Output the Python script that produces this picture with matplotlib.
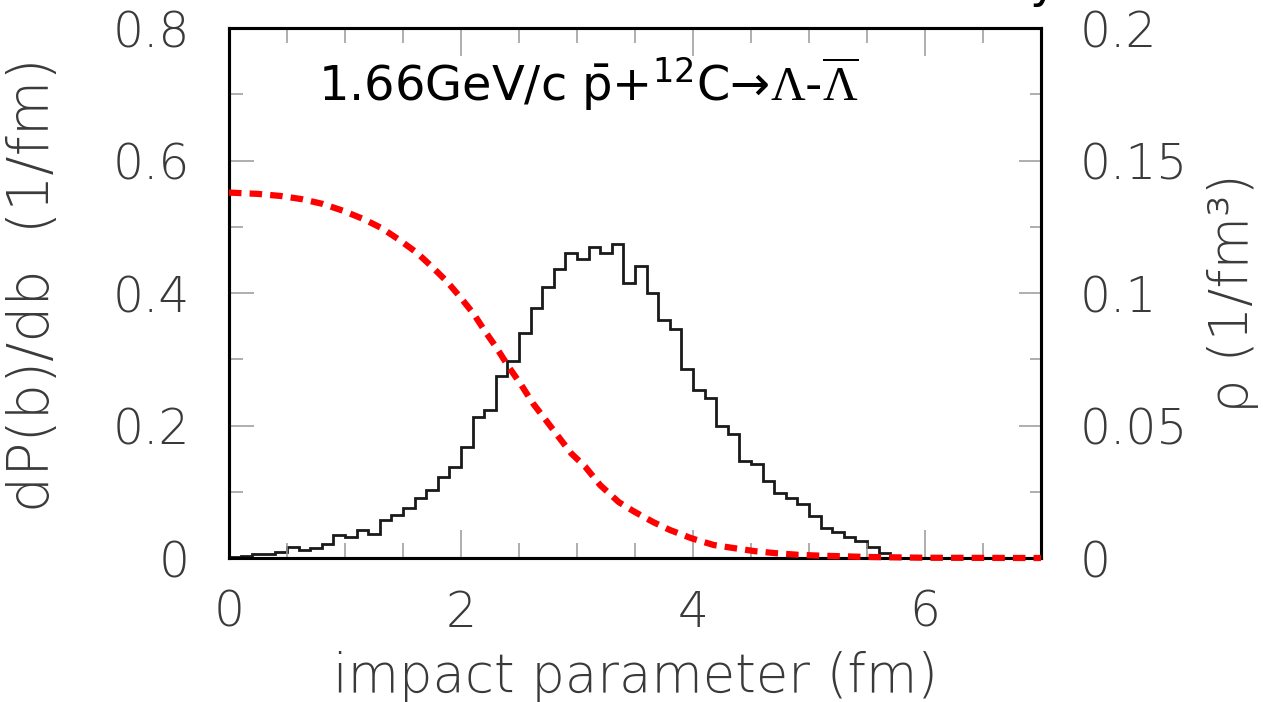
import numpy as np
import matplotlib.pyplot as plt
from matplotlib.ticker import MultipleLocator

plt.rcParams['mathtext.fontset'] = 'custom'
plt.rcParams['mathtext.rm'] = 'DejaVu Sans'
plt.rcParams['mathtext.sf'] = 'Liberation Serif'

# histogram dP(b)/db, bins of 0.1 fm from 0 to 7 fm
b_edges = np.linspace(0, 7, 71)
dpdb = [0.001, 0.003, 0.0056, 0.0056, 0.0086, 0.017, 0.012, 0.0156, 0.021, 0.035,
        0.032, 0.042, 0.036, 0.057, 0.065, 0.076, 0.090, 0.102, 0.122, 0.137,
        0.167, 0.213, 0.223, 0.275, 0.298, 0.339, 0.378, 0.409, 0.436, 0.461,
        0.451, 0.470, 0.461, 0.474, 0.415, 0.441, 0.400, 0.359, 0.345, 0.286,
        0.254, 0.242, 0.199, 0.187, 0.147, 0.142, 0.116, 0.098, 0.090, 0.082,
        0.063, 0.045, 0.040, 0.032, 0.025, 0.017, 0.007, 0, 0, 0,
        0, 0, 0, 0, 0, 0, 0, 0, 0, 0]

# nuclear density rho(b) (right axis)
rho_b = [0, 0.25, 0.45, 0.63, 0.81, 0.98, 1.16, 1.32, 1.47, 1.62, 1.75, 1.88,
         2.0, 2.11, 2.21, 2.31, 2.41, 2.52, 2.62, 2.72, 2.84, 2.95, 3.07, 3.2,
         3.36, 3.49, 3.66, 3.8, 3.99, 4.18, 4.36, 4.53, 4.72, 4.91, 5.09, 5.5, 6.0, 7.0]
rho = [0.1379, 0.1374, 0.1366, 0.1354, 0.1336, 0.1311, 0.1279, 0.1244, 0.1200, 0.1152,
       0.1099, 0.1043, 0.0981, 0.0921, 0.0854, 0.0791, 0.0722, 0.0653, 0.0584, 0.0527,
       0.0458, 0.0395, 0.0345, 0.0275, 0.0211, 0.0176, 0.0135, 0.0106, 0.0074, 0.0049,
       0.0037, 0.0026, 0.0018, 0.0012, 0.0009, 0.0004, 0.0001, 0.0]

x_ticks = [0, 2, 4, 6]
x_ticklabels = ['0', '2', '4', '6']
y_ticks = [0, 0.2, 0.4, 0.6, 0.8]
y_ticklabels = ['0', '0.2', '0.4', '0.6', '0.8']
y2_ticks = [0, 0.05, 0.1, 0.15, 0.2]
y2_ticklabels = ['0', '0.05', '0.1', '0.15', '0.2']

title = (r'1.66GeV/c $\bar{\mathrm{p}}$+$^{\mathrm{12}}$C→$\mathsf{\Lambda}$'
         r'-$\overline{\mathsf{\Lambda}}$')

lab = dict(family='DejaVu Sans', weight='light', color='#3a3a3a')

fig = plt.figure(figsize=(12.63, 7.02), dpi=100)
ax = fig.add_axes([0.1813, 0.2051, 0.6429, 0.7550])
ax.stairs(dpdb, b_edges, color='#1a1a1a', lw=2.0, baseline=0)
ax.set_xlim(0, 7)
ax.set_ylim(0, 0.8)

ax2 = ax.twinx()
ax2.plot(rho_b, rho, color='red', lw=4.5, dashes=(2.0, 1.3), dash_capstyle='butt',
         clip_on=False, zorder=5)
ax2.set_ylim(0, 0.2)

ax.set_xticks(x_ticks)
ax.set_xticklabels(x_ticklabels, fontsize=35, **lab)
ax.set_yticks(y_ticks)
ax.set_yticklabels(y_ticklabels, fontsize=35, **lab)
ax2.set_yticks(y2_ticks)
ax2.set_yticklabels(y2_ticklabels, fontsize=35, **lab)
ax.xaxis.set_minor_locator(MultipleLocator(0.5))
ax.yaxis.set_minor_locator(MultipleLocator(0.1))
ax2.yaxis.set_minor_locator(MultipleLocator(0.025))

ax.tick_params(axis='x', which='both', direction='in', top=True, bottom=True,
               color='#999999', width=1.1, pad=22)
ax.tick_params(axis='x', which='major', length=20)
ax.tick_params(axis='x', which='minor', length=11)
ax.tick_params(axis='y', which='both', direction='in', left=True, right=False,
               color='#999999', width=1.1, pad=28)
ax.tick_params(axis='y', which='major', length=18)
ax.tick_params(axis='y', which='minor', length=10)
ax2.tick_params(axis='y', which='both', direction='in', left=False, right=True,
                color='#999999', width=1.1, pad=28)
ax2.tick_params(axis='y', which='major', length=16)
ax2.tick_params(axis='y', which='minor', length=8)

for a in (ax, ax2):
    for s in a.spines.values():
        s.set_linewidth(2.2)
        s.set_color('black')

ax.set_xlabel('impact parameter (fm)', fontsize=38, **lab)
ax.xaxis.set_label_coords(0.501, -0.175)
ax.set_ylabel('dP(b)/db  (1/fm)', fontsize=41, **lab)
ax.yaxis.set_label_coords(-0.207, 0.515)
ax2.set_ylabel('ρ (1/fm³)', fontsize=39, **lab)
ax2.yaxis.set_label_coords(1.205, 0.5)

ax.text(0.767, 0.69, title, fontsize=34.5, family='DejaVu Sans', color='black',
        va='baseline', ha='left')

# cropped character at top edge
fig.text(1030 / 1263, 1 + 3 / 702, 'y', fontsize=34, color='black', va='baseline')

fig.savefig('out.png', dpi=100)
